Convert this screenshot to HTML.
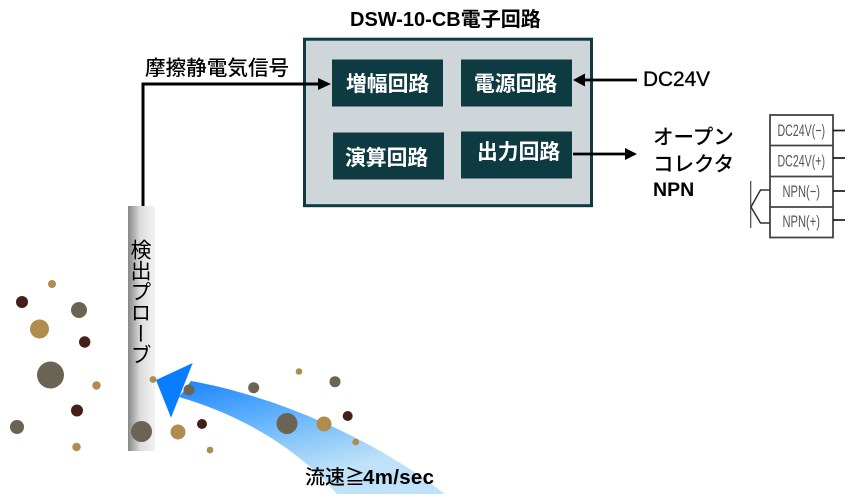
<!DOCTYPE html>
<html><head><meta charset="utf-8">
<style>
html,body{margin:0;padding:0;background:#fff;width:849px;height:502px;overflow:hidden}
svg{position:absolute;left:0;top:0}
text{font-family:"Liberation Sans","Noto Sans CJK JP",sans-serif;fill:#000}
.b{font-weight:700}
.w{fill:#fff;font-weight:700;font-size:20.8px}
.t{font-size:16.5px;fill:#555}
.m{stroke:#000;stroke-width:.35px}
#v{position:absolute;left:129px;top:239px;width:24px;height:130px;writing-mode:vertical-rl;font:400 21px/24px "Noto Sans CJK JP",sans-serif;color:#000;white-space:nowrap}
</style></head><body>
<svg width="849" height="502" viewBox="0 0 849 502">
<defs>
<linearGradient id="p" x1="0" x2="1" y1="0" y2="0"><stop offset="0" stop-color="#868686"/><stop offset=".45" stop-color="#dcdcdc"/><stop offset="1" stop-color="#f3f3f3"/></linearGradient>
<linearGradient id="f" gradientUnits="userSpaceOnUse" x1="200" y1="380" x2="225" y2="494"><stop offset="0" stop-color="#1e88ff"/><stop offset=".5" stop-color="#6cb8fb"/><stop offset="1" stop-color="#bfe2f8"/></linearGradient>
</defs>

<rect x="128" y="206" width="27" height="245" fill="url(#p)"/>
<path d="M191 381C265 394 365 432 445 494H337C295 445 235 413 179 397Z" fill="url(#f)"/>
<polygon points="156,380 192.7,363 171,417.7" fill="#0a7dff"/>

<g fill="#6b6353">
<circle cx="79" cy="310" r="8"/><circle cx="50.5" cy="375" r="13.5"/><circle cx="17" cy="427" r="7"/><circle cx="141.5" cy="431.5" r="10.5"/><circle cx="189" cy="390" r="5.5"/><circle cx="253.7" cy="387.7" r="5.5"/><circle cx="335" cy="381.7" r="5.5"/><circle cx="287" cy="423.5" r="10.5"/>
</g>
<g fill="#b08c4e">
<circle cx="52" cy="284" r="4"/><circle cx="39.5" cy="329" r="9.5"/><circle cx="96.5" cy="385.5" r="4.2"/><circle cx="76.5" cy="447" r="4.2"/><circle cx="153" cy="379.5" r="3.4"/><circle cx="178" cy="432" r="7.5"/><circle cx="210" cy="450" r="3.4"/><circle cx="299" cy="371.5" r="3.3"/><circle cx="324" cy="424" r="7.5"/><circle cx="355.7" cy="442" r="3.4"/>
</g>
<g fill="#452018">
<circle cx="22" cy="302" r="6"/><circle cx="84.7" cy="342" r="5.7"/><circle cx="77" cy="410.5" r="6"/><circle cx="202" cy="424" r="5"/><circle cx="347.7" cy="416" r="5"/>
</g>

<rect x="304.5" y="39.2" width="287" height="166.5" fill="#ced6da" stroke="#0e3a42" stroke-width="3"/>
<g fill="#0e3a42">
<rect x="332" y="59.5" width="111" height="47"/>
<rect x="461" y="59.5" width="111" height="47"/>
<rect x="333" y="132.5" width="111" height="47"/>
<rect x="461" y="131.5" width="111" height="47"/>
</g>
<text class="w" x="346" y="91">増幅回路</text>
<text class="w" x="474" y="91">電源回路</text>
<text class="w" x="345" y="165">演算回路</text>
<text class="w" x="477" y="159">出力回路</text>

<path d="M143 206V84H320" fill="none" stroke="#000" stroke-width="3"/>
<polygon points="331,84 318,78 318,90" fill="#000"/>
<path d="M637 80H583" fill="none" stroke="#000" stroke-width="2.7"/>
<polygon points="573,80 585,73.5 585,86.5" fill="#000"/>
<path d="M573 154H627" fill="none" stroke="#000" stroke-width="2.7"/>
<polygon points="637,154 625,148 625,160" fill="#000"/>

<text class="b" x="350" y="26" font-size="20">DSW-10-CB電子回路</text>
<text x="145" y="75" font-size="20.6" font-weight="500">摩擦静電気信号</text>
<text class="m" x="643" y="86" font-size="20.8">DC24V</text>
<text x="653" y="144" font-size="20.5" font-weight="500">オープン</text>
<text x="653" y="171" font-size="20.5" font-weight="500">コレクタ</text>
<text class="b" x="653" y="196" font-size="19.5">NPN</text>
<text x="305" y="484" font-size="20" font-weight="500">流速≧</text>
<text class="b" x="363" y="484" font-size="20.5" letter-spacing=".3">4m/sec</text>

<g fill="#fff" stroke="#444" stroke-width="1.8">
<rect x="770" y="115" width="63" height="122.5"/>
<path d="M770 145.5H833M770 176.5H833M770 207H833" fill="none"/>
</g>
<path d="M833 130.5H845M833 158H845M833 191H845M833 220H845" stroke="#222" stroke-width="1.8" fill="none"/>
<path d="M750.7 181V228" stroke="#444" stroke-width="1.2" fill="none"/>
<path d="M751 207L760.5 190H770M751 207L760.5 223H770" stroke="#333" stroke-width="1.5" fill="none"/>
<text class="t" x="777.5" y="136" textLength="47.5" lengthAdjust="spacingAndGlyphs">DC24V(−)</text>
<text class="t" x="777.5" y="166.5" textLength="47.5" lengthAdjust="spacingAndGlyphs">DC24V(+)</text>
<text class="t" x="782.5" y="197" textLength="37.5" lengthAdjust="spacingAndGlyphs">NPN(−)</text>
<text class="t" x="782.5" y="227" textLength="37.5" lengthAdjust="spacingAndGlyphs">NPN(+)</text>
</svg>
<div id="v">検出プローブ</div>
</body></html>
